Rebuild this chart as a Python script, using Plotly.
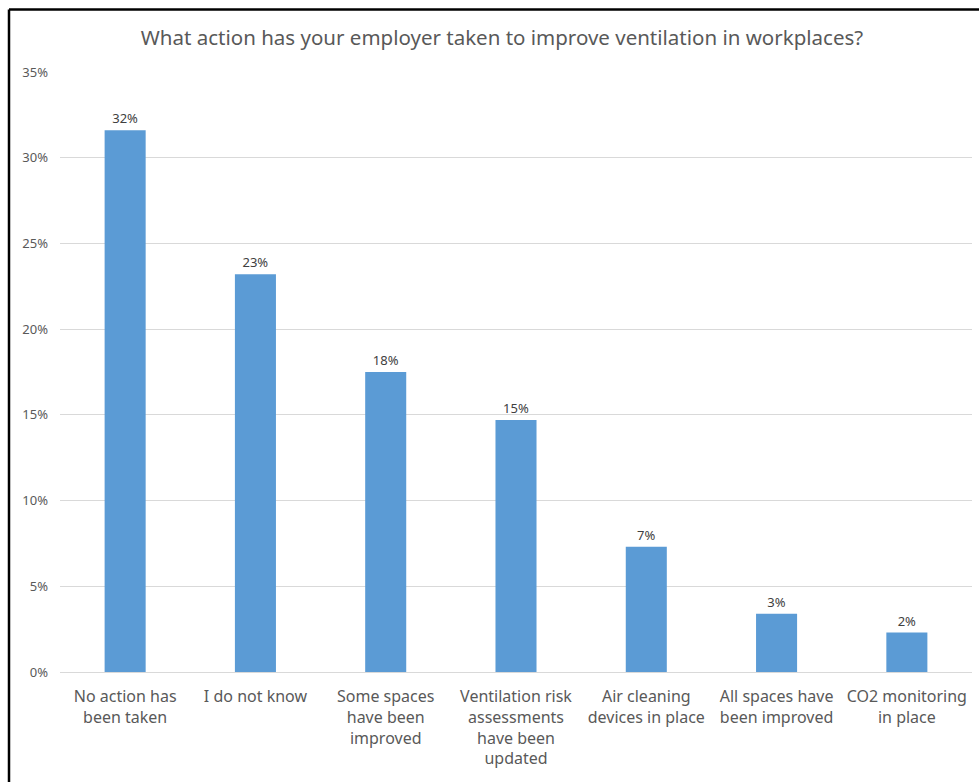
import plotly.graph_objects as go

categories = ["No action has<br>been taken", "I do not know", "Some spaces<br>have been<br>improved",
              "Ventilation risk<br>assessments<br>have been<br>updated", "Air cleaning<br>devices in place",
              "All spaces have<br>been improved", "CO2 monitoring<br>in place"]
values = [31.6, 23.2, 17.5, 14.7, 7.3, 3.4, 2.3]
labels = ["32%", "23%", "18%", "15%", "7%", "3%", "2%"]
yticks = [0, 5, 10, 15, 20, 25, 30, 35]
yticklabels = ["0%", "5%", "10%", "15%", "20%", "25%", "30%", "35%"]

FONT = "Noto Sans"
W, H = 979, 782
ml, mt = 60, 72
pw, ph = 912, 600
mr = W - ml - pw
mb = H - mt - ph

fig = go.Figure(go.Bar(
    x=categories, y=values, width=0.315,
    marker=dict(color="#5B9BD5", line=dict(width=0)),
    text=labels, textposition="outside", cliponaxis=False,
    textfont=dict(family=FONT, size=13, color="#404040"),
    hoverinfo="skip",
))

fig.update_layout(
    width=W, height=H,
    margin=dict(l=ml, r=mr, t=mt, b=mb),
    plot_bgcolor="white", paper_bgcolor="white",
    showlegend=False,
    title=dict(text="What action has your employer taken to improve ventilation in workplaces?",
               x=502 / W, xanchor="center", y=1 - 38 / H, yanchor="middle",
               font=dict(family=FONT, size=20.5, color="#595959")),
    font=dict(family=FONT),
)
fig.update_yaxes(range=[0, 35], tickvals=yticks, ticktext=yticklabels,
                 showgrid=True, gridcolor="#D9D9D9", gridwidth=1,
                 zeroline=True, zerolinecolor="#D9D9D9", zerolinewidth=1,
                 tickfont=dict(family=FONT, size=13, color="#595959"),
                 ticks="", ticklen=0, showline=False, ticklabelstandoff=11)
fig.update_xaxes(tickfont=dict(family=FONT, size=16, color="#595959"),
                 showline=False, ticks="", tickangle=0, automargin=False,
                 ticklabelstandoff=13)

# outer frame: left and top edges only
x_left = (9 - ml) / pw
x_right = (W - ml) / pw
y_top = 1 + (mt - 9.5) / ph
y_bottom = -mb / ph
fig.add_shape(type="line", xref="paper", yref="paper",
              x0=x_left, x1=x_right, y0=y_top, y1=y_top,
              line=dict(color="black", width=2.5))
fig.add_shape(type="line", xref="paper", yref="paper",
              x0=x_left, x1=x_left, y0=y_bottom, y1=y_top,
              line=dict(color="black", width=2.5))

fig.write_html("out.html", config={"displayModeBar": False},
               post_script="document.body.style.margin='0';document.body.style.overflow='hidden';")
